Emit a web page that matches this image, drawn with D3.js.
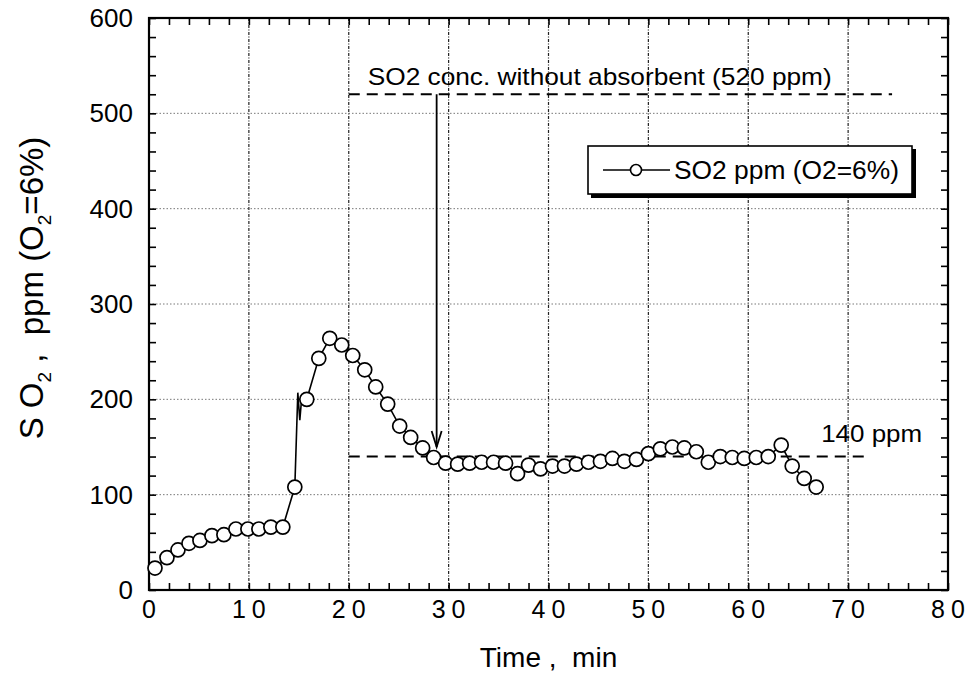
<!DOCTYPE html>
<html>
<head>
<meta charset="utf-8">
<script src="https://cdn.jsdelivr.net/npm/d3@7"></script>
<style>
  body { margin: 0; background: #fff; }
  svg { font-family: "Liberation Sans", Arial, sans-serif; }
</style>
</head>
<body>
<svg id="chart" width="972" height="694"></svg>
<script>
// SO2 breakthrough curve, time in min
const markerTime = [0.6, 1.8, 2.9, 4.0, 5.1, 6.3, 7.5, 8.7, 9.9, 11.0, 12.2, 13.4, 14.6,
  15.8, 17.0, 18.1, 19.3, 20.4, 21.6, 22.7, 23.9, 25.1, 26.2, 27.4, 28.5,
  29.7, 30.9, 32.1, 33.3, 34.5, 35.7, 36.9, 38.0, 39.2, 40.4, 41.6, 42.8, 44.0,
  45.2, 46.4, 47.6, 48.8, 50.0, 51.2, 52.4, 53.6, 54.8, 56.0, 57.2, 58.4, 59.6,
  60.8, 62.0, 63.3, 64.4, 65.6, 66.8];
const markerSO2 = [23, 34, 42, 49, 52, 57, 58, 64, 64, 64, 66, 66, 108,
  200, 243, 264, 257, 246, 231, 213, 195, 172, 160, 149, 139,
  133, 132, 133, 134, 134, 133, 122, 131, 127, 130, 130, 132, 134,
  135, 138, 135, 137, 143, 148, 150, 149, 145, 134, 140, 139, 138,
  139, 140, 152, 130, 117, 108];
// spike between the 14.6 and 15.8 min readings (line only)
const spikeTime = [14.9, 15.1, 15.3];
const spikeSO2 = [207, 178, 203];

const baseline520 = { value: 520, from: 20, to: 74.4 };
const baseline140 = { value: 140, from: 20, to: 72 };
const xTicks = d3.range(0, 81, 10);
const yTicks = d3.range(0, 601, 100);

const svg = d3.select('#chart');
const mLeft = 149, mRight = 948, mTop = 18, mBottom = 590;

const x = d3.scaleLinear().domain([0, 80]).range([mLeft, mRight]);
const y = d3.scaleLinear().domain([0, 600]).range([mBottom, mTop]);

// grid
svg.append('g')
  .selectAll('line')
  .data(yTicks.slice(1, -1))
  .join('line')
  .attr('x1', mLeft).attr('x2', mRight)
  .attr('y1', d => y(d)).attr('y2', d => y(d))
  .attr('stroke', '#555').attr('stroke-width', 0.8)
  .attr('stroke-dasharray', '1.5,2');
svg.append('g')
  .selectAll('line')
  .data(xTicks.slice(1, -1))
  .join('line')
  .attr('x1', d => x(d)).attr('x2', d => x(d))
  .attr('y1', mTop).attr('y2', mBottom)
  .attr('stroke', '#222').attr('stroke-width', 1.2)
  .attr('stroke-dasharray', '3,1.5,1,1.5');

// axes with inward ticks
const tickStyle = g => {
  g.select('.domain').remove();
  g.selectAll('.tick line').attr('stroke', '#000').attr('stroke-width', 1.6);
};
const minorX = d3.range(0, 81, 2);
const minorY = d3.range(0, 601, 20);

svg.append('g').attr('transform', `translate(0,${mBottom})`)
  .call(d3.axisBottom(x).tickValues(minorX).tickSize(-7).tickFormat(''))
  .call(tickStyle);
svg.append('g').attr('transform', `translate(0,${mTop})`)
  .call(d3.axisTop(x).tickValues(minorX).tickSize(-7).tickFormat(''))
  .call(tickStyle);
svg.append('g').attr('transform', `translate(${mLeft},0)`)
  .call(d3.axisLeft(y).tickValues(minorY).tickSize(-7).tickFormat(''))
  .call(tickStyle);
svg.append('g').attr('transform', `translate(${mRight},0)`)
  .call(d3.axisRight(y).tickValues(minorY).tickSize(-7).tickFormat(''))
  .call(tickStyle);

// frame
svg.append('rect')
  .attr('x', mLeft).attr('y', mTop)
  .attr('width', mRight - mLeft).attr('height', mBottom - mTop)
  .attr('fill', 'none').attr('stroke', '#000').attr('stroke-width', 2.2);

// tick labels
svg.append('g')
  .selectAll('text')
  .data(xTicks)
  .join('text')
  .attr('x', d => x(d) + 3).attr('y', mBottom + 28)
  .attr('text-anchor', 'middle')
  .attr('font-size', 25).attr('letter-spacing', 6)
  .text(d => d);
svg.append('g')
  .selectAll('text')
  .data(yTicks)
  .join('text')
  .attr('x', mLeft - 16).attr('y', d => y(d) + 9)
  .attr('text-anchor', 'end')
  .attr('font-size', 26)
  .text(d => d);

// axis titles
svg.append('text')
  .attr('x', x(40)).attr('y', 667)
  .attr('text-anchor', 'middle').attr('font-size', 28)
  .attr('xml:space', 'preserve')
  .text('Time ,  min');

const yTitle = svg.append('text')
  .attr('transform', 'translate(43,288) rotate(-90)')
  .attr('text-anchor', 'middle').attr('font-size', 33)
  .attr('xml:space', 'preserve');
yTitle.append('tspan').text('S O');
yTitle.append('tspan').attr('font-size', 19).attr('dy', 8).text('2');
yTitle.append('tspan').attr('dy', -8).text(' ,  ppm (O');
yTitle.append('tspan').attr('font-size', 19).attr('dy', 8).text('2');
yTitle.append('tspan').attr('dy', -8).text('=6%)');

// reference dashed lines
[baseline520, baseline140].forEach(b => {
  svg.append('line')
    .attr('x1', x(b.from)).attr('x2', x(b.to))
    .attr('y1', y(b.value)).attr('y2', y(b.value))
    .attr('stroke', '#000').attr('stroke-width', 2)
    .attr('stroke-dasharray', '11,7');
});

svg.append('text')
  .attr('x', x(21.9)).attr('y', y(baseline520.value) - 9)
  .attr('font-size', 24)
  .attr('textLength', 464).attr('lengthAdjust', 'spacingAndGlyphs')
  .text('SO2 conc. without absorbent (520 ppm)');
svg.append('text')
  .attr('x', x(67.3)).attr('y', y(baseline140.value) - 15)
  .attr('font-size', 23)
  .attr('textLength', 101).attr('lengthAdjust', 'spacingAndGlyphs')
  .text('140 ppm');

// arrow
const arrowX = x(28.8);
svg.append('line')
  .attr('x1', arrowX).attr('x2', arrowX)
  .attr('y1', y(baseline520.value)).attr('y2', y(150))
  .attr('stroke', '#000').attr('stroke-width', 1.8);
svg.append('path')
  .attr('d', `M${arrowX - 5},${y(150) - 16} L${arrowX},${y(150)} L${arrowX + 5},${y(150) - 16}`)
  .attr('fill', 'none').attr('stroke', '#000').attr('stroke-width', 1.8);

// data line
const linePts = markerTime.map((t, i) => [t, markerSO2[i]])
  .concat(spikeTime.map((t, i) => [t, spikeSO2[i]]))
  .sort((a, b) => a[0] - b[0]);
svg.append('path')
  .attr('d', d3.line().x(d => x(d[0])).y(d => y(d[1]))(linePts))
  .attr('fill', 'none').attr('stroke', '#000').attr('stroke-width', 1.6);

svg.append('g')
  .selectAll('circle')
  .data(markerTime.map((t, i) => [t, markerSO2[i]]))
  .join('circle')
  .attr('cx', d => x(d[0])).attr('cy', d => y(d[1]))
  .attr('r', 7)
  .attr('fill', '#fff').attr('stroke', '#000').attr('stroke-width', 1.7);

// legend
const lg = svg.append('g').attr('transform', 'translate(588,146)');
lg.append('rect').attr('x', 3).attr('y', 3).attr('width', 325).attr('height', 49).attr('fill', '#000');
lg.append('rect').attr('width', 324).attr('height', 48)
  .attr('fill', '#fff').attr('stroke', '#000').attr('stroke-width', 1.6);
lg.append('line').attr('x1', 15).attr('x2', 82).attr('y1', 24).attr('y2', 24)
  .attr('stroke', '#000').attr('stroke-width', 1.6);
lg.append('circle').attr('cx', 48).attr('cy', 24).attr('r', 5.5)
  .attr('fill', '#fff').attr('stroke', '#000').attr('stroke-width', 1.6);
lg.append('text').attr('x', 86).attr('y', 33).attr('font-size', 25)
  .attr('textLength', 225).attr('lengthAdjust', 'spacingAndGlyphs')
  .text('SO2 ppm (O2=6%)');
</script>
</body>
</html>
